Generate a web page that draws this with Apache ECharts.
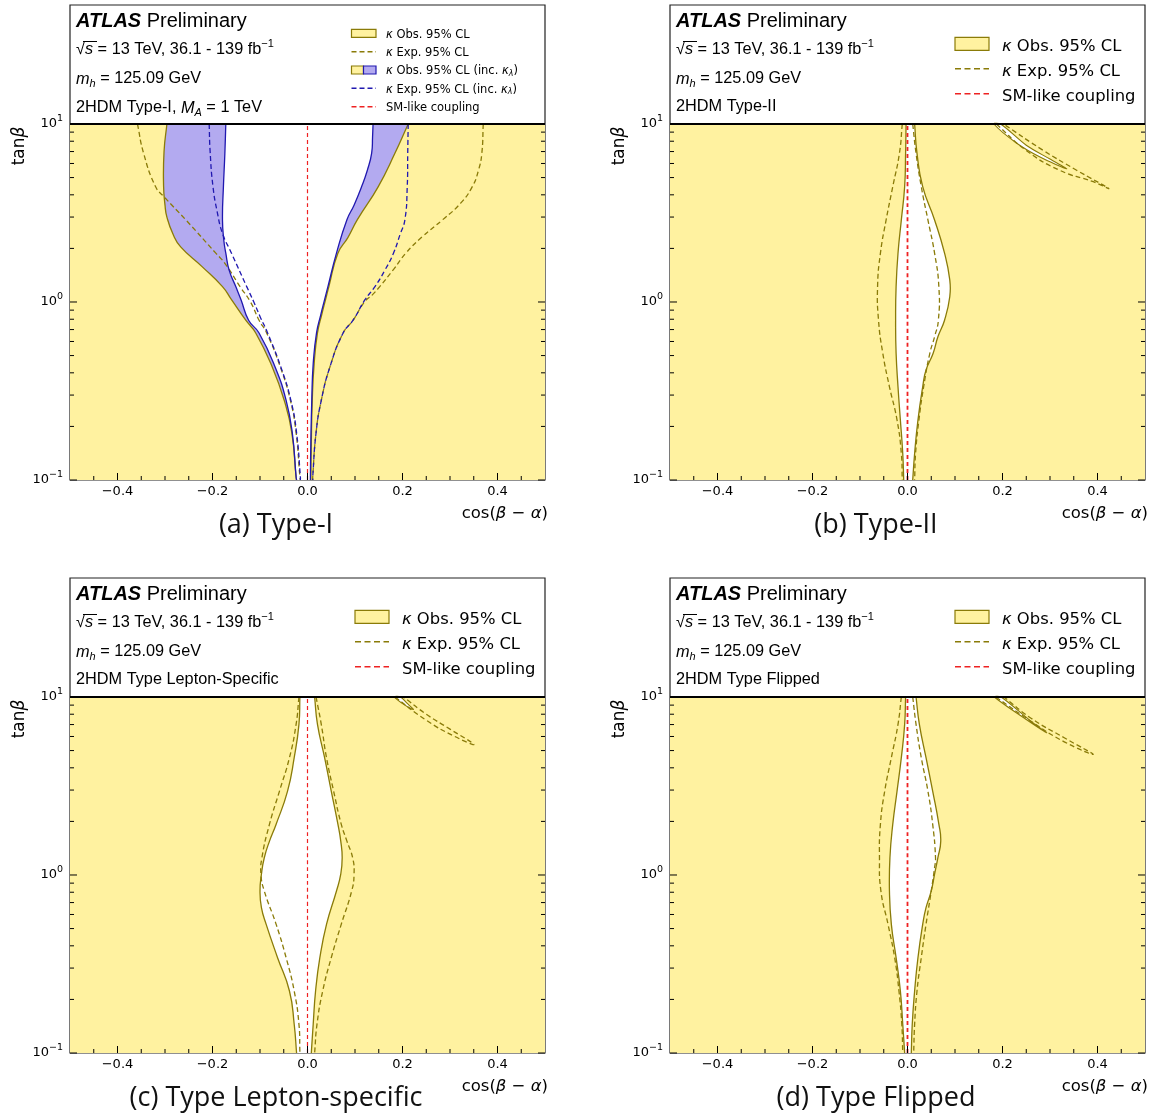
<!DOCTYPE html>
<html>
<head>
<meta charset="utf-8">
<title>2HDM cos(beta-alpha) vs tan(beta)</title>
<script src="https://cdn.jsdelivr.net/npm/echarts@6.0.0/dist/echarts.min.js"></script>
<style>
  html, body { margin: 0; padding: 0; background: #fff; }
  #chart { width: 1160px; height: 1117px; }
</style>
</head>
<body>
<div id="chart"></div>
<script>
// scan ranges
var cosRange = [-0.5, 0.5];
var tanbRange = [0.1, 10];

// tick values
var xMajorTicks = [-0.4, -0.2, 0, 0.2, 0.4];
var xMinorTicks = [-0.45, -0.35, -0.3, -0.25, -0.15, -0.1, -0.05, 0.05, 0.1, 0.15, 0.25, 0.3, 0.35, 0.45];
var yMajorTicks = [0.1, 1, 10];
var yMinorTicks = [0.2, 0.3, 0.4, 0.5, 0.6, 0.7, 0.8, 0.9, 2, 3, 4, 5, 6, 7, 8, 9];

// SM-like coupling
var smLine = [[0, 0.1], [0, 10]];

// points are [cos(beta-alpha), tan(beta)], read top to bottom
// (a) Type-I
var aObsLeft = [[-0.296,10],[-0.302,7],[-0.303,4.5],[-0.3,3.5],[-0.296,3.0],[-0.283,2.4],[-0.267,2.04],[-0.222,1.58],[-0.179,1.22],[-0.16,1.03],[-0.13,0.79],[-0.109,0.67],[-0.074,0.43],[-0.049,0.28],[-0.033,0.184],[-0.024,0.104],[-0.023,0.1]];
var aObsRight = [[0.212,10],[0.184,6.84],[0.149,4.45],[0.105,2.9],[0.085,2.3],[0.064,1.88],[0.045,1.22],[0.038,1.03],[0.03,0.85],[0.021,0.67],[0.014,0.45],[0.01,0.28],[0.008,0.16],[0.007,0.1]];
var aKlObsLeft = [[-0.172,10],[-0.174,6.8],[-0.177,4.45],[-0.179,2.9],[-0.176,2.2],[-0.172,1.88],[-0.165,1.51],[-0.151,1.22],[-0.14,1.03],[-0.124,0.79],[-0.102,0.67],[-0.068,0.43],[-0.045,0.28],[-0.032,0.184],[-0.024,0.104],[-0.023,0.1]];
var aKlObsRight = [[0.138,10],[0.137,8.5],[0.135,6.84],[0.126,5.5],[0.114,4.45],[0.098,3.5],[0.083,2.9],[0.061,1.88],[0.043,1.22],[0.036,1.03],[0.028,0.85],[0.019,0.67],[0.012,0.45],[0.009,0.28],[0.007,0.16],[0.006,0.1]];
var aExpLeft = [[-0.358,10],[-0.345,6.84],[-0.32,4.45],[-0.302,3.9],[-0.256,2.89],[-0.193,1.88],[-0.174,1.65],[-0.142,1.22],[-0.12,1.0],[-0.102,0.79],[-0.086,0.67],[-0.057,0.43],[-0.036,0.28],[-0.024,0.184],[-0.016,0.104],[-0.015,0.1]];
var aExpRight = [[0.37,10],[0.367,6.84],[0.36,5.5],[0.347,4.45],[0.322,3.58],[0.284,2.89],[0.242,2.33],[0.207,1.88],[0.18,1.51],[0.152,1.22],[0.137,1.1],[0.12,1.0],[0.096,0.79],[0.075,0.67],[0.047,0.43],[0.029,0.28],[0.018,0.184],[0.011,0.104],[0.011,0.1]];
var aKlExpLeft = [[-0.207,10],[-0.205,7],[-0.199,4.45],[-0.19,3.2],[-0.179,2.43],[-0.16,1.88],[-0.128,1.22],[-0.113,1.0],[-0.1,0.83],[-0.084,0.67],[-0.056,0.43],[-0.035,0.28],[-0.023,0.184],[-0.015,0.104],[-0.015,0.1]];
var aKlExpRight = [[0.212,10],[0.211,6.84],[0.21,4.45],[0.205,2.89],[0.195,2.4],[0.181,1.88],[0.163,1.51],[0.142,1.22],[0.121,1.03],[0.096,0.79],[0.075,0.67],[0.047,0.43],[0.029,0.28],[0.018,0.184],[0.011,0.104],[0.011,0.1]];

// (b) Type-II
var bObsLeft = [[-0.003,10],[-0.004,6.84],[-0.006,4.45],[-0.013,2.89],[-0.02,1.88],[-0.024,1.22],[-0.025,0.79],[-0.024,0.515],[-0.02,0.334],[-0.015,0.217],[-0.01,0.141],[-0.008,0.1]];
var bObsRight = [[0.015,10],[0.02,6.84],[0.032,4.45],[0.057,2.89],[0.078,1.88],[0.089,1.33],[0.089,1.07],[0.078,0.79],[0.064,0.638],[0.054,0.515],[0.039,0.415],[0.032,0.334],[0.022,0.217],[0.015,0.141],[0.011,0.1]];
var bExpLeft = [[-0.011,10],[-0.017,6.84],[-0.031,4.45],[-0.045,2.89],[-0.057,1.88],[-0.063,1.22],[-0.061,0.79],[-0.052,0.515],[-0.038,0.334],[-0.022,0.217],[-0.013,0.141],[-0.011,0.1]];
var bExpRight = [[0.011,10],[0.018,6.84],[0.029,4.45],[0.043,2.89],[0.057,1.88],[0.066,1.22],[0.065,0.79],[0.057,0.638],[0.047,0.515],[0.034,0.334],[0.024,0.217],[0.017,0.141],[0.015,0.1]];
var bObsArm = [[0.182,10],[0.23,7.8],[0.28,6.5],[0.335,5.6],[0.3,6.35],[0.25,7.6],[0.196,10]];
var bExpArm = [[0.187,10],[0.25,7.1],[0.32,5.5],[0.391,4.74],[0.423,4.35],[0.356,5.5],[0.286,7.1],[0.202,10]];

// (c) Type Lepton-specific
var cObsLeft = [[-0.016,10],[-0.018,7.02],[-0.028,4.56],[-0.042,2.96],[-0.066,1.93],[-0.08,1.55],[-0.091,1.25],[-0.097,1.01],[-0.1,0.813],[-0.097,0.655],[-0.087,0.528],[-0.063,0.343],[-0.038,0.223],[-0.028,0.145],[-0.023,0.1]];
var cObsRight = [[0.015,10],[0.021,7.02],[0.036,4.56],[0.05,2.96],[0.064,1.93],[0.07,1.55],[0.073,1.25],[0.07,1.01],[0.061,0.813],[0.04,0.528],[0.026,0.343],[0.017,0.223],[0.012,0.145],[0.008,0.1]];
var cExpLeft = [[-0.018,10],[-0.024,7.02],[-0.038,4.56],[-0.059,2.96],[-0.08,1.93],[-0.096,1.25],[-0.098,1.01],[-0.091,0.813],[-0.066,0.528],[-0.045,0.343],[-0.028,0.223],[-0.018,0.145],[-0.016,0.1]];
var cExpRight = [[0.018,10],[0.029,7.02],[0.04,4.56],[0.055,2.96],[0.071,1.93],[0.083,1.55],[0.095,1.25],[0.098,1.01],[0.093,0.813],[0.071,0.528],[0.05,0.343],[0.032,0.223],[0.02,0.145],[0.015,0.1]];
var cObsArm = [[0.183,10],[0.205,9.0],[0.223,8.5],[0.21,9.2],[0.196,10]];
var cExpArm = [[0.184,10],[0.25,7.4],[0.31,6.0],[0.35,5.42],[0.3,6.6],[0.25,8.0],[0.202,10]];

// (d) Type Flipped
var dObsLeft = [[-0.004,10],[-0.006,7.02],[-0.013,4.56],[-0.022,2.96],[-0.031,1.93],[-0.037,1.25],[-0.038,0.813],[-0.034,0.528],[-0.024,0.343],[-0.015,0.223],[-0.01,0.145],[-0.006,0.1]];
var dObsRight = [[0.018,10],[0.025,7.02],[0.039,4.56],[0.053,2.96],[0.066,1.93],[0.07,1.55],[0.064,1.25],[0.057,1.01],[0.05,0.813],[0.039,0.655],[0.032,0.528],[0.022,0.343],[0.015,0.223],[0.01,0.145],[0.008,0.1]];
var dExpLeft = [[-0.013,10],[-0.02,7.02],[-0.034,4.56],[-0.048,2.96],[-0.057,1.93],[-0.059,1.25],[-0.056,0.813],[-0.041,0.528],[-0.027,0.343],[-0.018,0.223],[-0.012,0.145],[-0.01,0.1]];
var dExpRight = [[0.011,10],[0.018,7.02],[0.029,4.56],[0.043,2.96],[0.053,1.93],[0.059,1.25],[0.057,1.1],[0.05,0.813],[0.039,0.528],[0.029,0.343],[0.02,0.223],[0.015,0.145],[0.013,0.1]];
var dObsArm = [[0.183,10],[0.24,7.8],[0.293,6.3],[0.26,7.3],[0.197,10]];
var dExpArm = [[0.186,10],[0.26,7.3],[0.33,5.6],[0.391,4.76],[0.33,5.9],[0.26,7.6],[0.203,10]];

var captions = ['(a) Type-I', '(b) Type-II', '(c) Type Lepton-specific', '(d) Type Flipped'];

var YEL = '#fff2a0', PUR = '#b3aaf0', OLV = '#8a7b08', BLU = '#2018b0', RED = '#ee2222';
var SANS = '"Liberation Sans", Arial, sans-serif';
var DJV = '"DejaVu Sans", sans-serif';
var GL = [70, 670, 70, 670], GT = [5, 5, 578, 578], GW = 475, GH = 475;
var TAN_TOP = 46.6;   // top of the frame (legend box)
var SMOOTH = 0.5;

var chart = echarts.init(document.getElementById('chart'));

function dupEnds(p) { return [p[0]].concat(p, [p[p.length - 1]]); }

// open curve, smoothed by the library
function curve(gi, pts, style, z) {
  return {
    type: 'custom', xAxisIndex: gi, yAxisIndex: gi, z: z, silent: true, clip: true,
    data: pts,
    renderItem: function (params, api) {
      if (params.dataIndex !== 0) return null;
      var p = pts.map(function (d) { return api.coord(d); });
      return { type: 'polyline', shape: { points: dupEnds(p), smooth: SMOOTH },
        style: echarts.util.extend({ fill: 'none' }, style) };
    }
  };
}

// area between a left and a right boundary
function region(gi, left, right, fill, z) {
  var all = left.concat(right);
  return {
    type: 'custom', xAxisIndex: gi, yAxisIndex: gi, z: z, silent: true, clip: true,
    data: all,
    renderItem: function (params, api) {
      if (params.dataIndex !== 0) return null;
      var l = left.map(function (d) { return api.coord(d); });
      var r = right.map(function (d) { return api.coord(d); }).reverse();
      return { type: 'polygon', shape: { points: dupEnds(l).concat(dupEnds(r)), smooth: SMOOTH },
        style: { fill: fill } };
    }
  };
}

// closed narrow island
function island(gi, pts, fill, stroke, z) {
  return {
    type: 'custom', xAxisIndex: gi, yAxisIndex: gi, z: z, silent: true, clip: true,
    data: pts,
    renderItem: function (params, api) {
      if (params.dataIndex !== 0) return null;
      var p = pts.map(function (d) { return api.coord(d); });
      return { type: 'polygon', shape: { points: p, smooth: 0.3 },
        style: { fill: fill, stroke: stroke, lineWidth: 1.1 } };
    }
  };
}

// excluded band: the whole scanned range
function band(gi) {
  return {
    type: 'custom', xAxisIndex: gi, yAxisIndex: gi, z: 1, silent: true, clip: true,
    data: [[cosRange[0], tanbRange[0]], [cosRange[1], tanbRange[1]]],
    renderItem: function (params, api) {
      if (params.dataIndex !== 0) return null;
      var a = api.coord([cosRange[0], tanbRange[0]]), b = api.coord([cosRange[1], tanbRange[1]]);
      return { type: 'rect', shape: { x: a[0], y: b[1], width: b[0] - a[0], height: a[1] - b[1] },
        style: { fill: YEL } };
    }
  };
}

// inward ticks on three sides and the line closing the scanned range
function ticks(gi) {
  return {
    type: 'custom', xAxisIndex: gi, yAxisIndex: gi, z: 20, silent: true,
    data: [[0, 1]],
    renderItem: function (params, api) {
      var kids = [];
      function seg(x1, y1, x2, y2, w) {
        kids.push({ type: 'line', shape: { x1: x1, y1: y1, x2: x2, y2: y2 },
          style: { stroke: '#000', lineWidth: w || 1 } });
      }
      yMajorTicks.forEach(function (v) {
        var l = api.coord([cosRange[0], v]), r = api.coord([cosRange[1], v]);
        seg(l[0], l[1], l[0] + 7, l[1]); seg(r[0], r[1], r[0] - 7, r[1]);
      });
      yMinorTicks.forEach(function (v) {
        var l = api.coord([cosRange[0], v]), r = api.coord([cosRange[1], v]);
        seg(l[0], l[1], l[0] + 4, l[1]); seg(r[0], r[1], r[0] - 4, r[1]);
      });
      xMajorTicks.forEach(function (v) {
        var b = api.coord([v, tanbRange[0]]);
        seg(b[0], b[1], b[0], b[1] - 7);
      });
      xMinorTicks.forEach(function (v) {
        var b = api.coord([v, tanbRange[0]]);
        seg(b[0], b[1], b[0], b[1] - 4);
      });
      var s0 = api.coord([cosRange[0], tanbRange[1]]), s1 = api.coord([cosRange[1], tanbRange[1]]);
      seg(s0[0], s0[1], s1[0], s1[1], 2);
      return { type: 'group', children: kids };
    }
  };
}

var solid = function (c) { return { stroke: c, lineWidth: 1.3 }; };
var dashed = function (c) { return { stroke: c, lineWidth: 1.3, lineDash: [5, 3] }; };

var series = [];
// (a)
series.push(band(0));
series.push(region(0, aObsLeft, aObsRight, PUR, 2));
series.push(region(0, aKlObsLeft, aKlObsRight, '#fff', 3));
series.push(curve(0, aExpLeft, dashed(OLV), 4));
series.push(curve(0, aExpRight, dashed(OLV), 4));
series.push(curve(0, aObsLeft, solid(OLV), 5));
series.push(curve(0, aObsRight, solid(OLV), 5));
series.push(curve(0, aKlObsLeft, solid(BLU), 6));
series.push(curve(0, aKlObsRight, solid(BLU), 6));
series.push(curve(0, aKlExpLeft, dashed(BLU), 7));
series.push(curve(0, aKlExpRight, dashed(BLU), 7));
series.push(curve(0, smLine, { stroke: RED, lineWidth: 1.2, lineDash: [4, 3] }, 8));
series.push(ticks(0));

// (b), (c), (d)
[
  [bObsLeft, bObsRight, bExpLeft, bExpRight, bObsArm, bExpArm, 1.8],
  [cObsLeft, cObsRight, cExpLeft, cExpRight, cObsArm, cExpArm, 1.2],
  [dObsLeft, dObsRight, dExpLeft, dExpRight, dObsArm, dExpArm, 1.8]
].forEach(function (s, k) {
  var gi = k + 1;
  series.push(band(gi));
  series.push(region(gi, s[0], s[1], '#fff', 3));
  series.push(island(gi, s[4], '#fff', OLV, 4));
  series.push(curve(gi, s[0], solid(OLV), 5));
  series.push(curve(gi, s[1], solid(OLV), 5));
  series.push(curve(gi, s[2], dashed(OLV), 6));
  series.push(curve(gi, s[3], dashed(OLV), 6));
  series.push(curve(gi, s[5], dashed(OLV), 6));
  series.push(curve(gi, smLine, { stroke: RED, lineWidth: s[6], lineDash: [4, 3] }, 8));
  series.push(ticks(gi));
});

var grids = [], xAxes = [], yAxes = [];
for (var i = 0; i < 4; i++) {
  grids.push({ left: GL[i], top: GT[i], width: GW, height: GH, show: true,
    borderColor: '#222', borderWidth: 1.2, backgroundColor: '#fff' });
  xAxes.push({
    type: 'value', gridIndex: i, min: cosRange[0], max: cosRange[1], interval: 0.05,
    axisLine: { show: false }, axisTick: { show: false }, splitLine: { show: false },
    axisLabel: {
      margin: 5, color: '#000', fontSize: 13, fontFamily: DJV,
      formatter: function (v) {
        var hit = xMajorTicks.some(function (t) { return Math.abs(t - v) < 1e-6; });
        if (!hit) return '';
        return (v < -1e-9 ? '\u2212' : '') + Math.abs(v).toFixed(1);
      }
    }
  });
  yAxes.push({
    type: 'log', logBase: 10, gridIndex: i, min: tanbRange[0], max: TAN_TOP,
    axisLine: { show: false }, axisTick: { show: false }, splitLine: { show: false },
    minorTick: { show: false },
    axisLabel: {
      margin: 7, color: '#000',
      formatter: function (v) {
        var e = Math.log10(v), r = Math.round(e);
        if (Math.abs(e - r) > 1e-6 || r > 1) return '';
        return '{b|10}{s|' + (r < 0 ? '\u2212' + (-r) : r) + '}';
      },
      rich: {
        b: { fontSize: 13, fontFamily: DJV, color: '#000', lineHeight: 20 },
        s: { fontSize: 9.5, fontFamily: DJV, color: '#000', lineHeight: 10, verticalAlign: 'top' }
      }
    }
  });
}

// text block, legend and captions
var graphic = [];
function txt(x, y, text, rich, font, extra) {
  var st = { text: text, font: font, fill: '#000', align: 'left', verticalAlign: 'middle' };
  if (rich) st.rich = rich;
  if (extra) echarts.util.extend(st, extra);
  graphic.push({ type: 'text', x: x, y: y, z: 100, silent: true, style: st });
}
function rectG(x, y, w, h, fill, stroke) {
  graphic.push({ type: 'rect', z: 100, silent: true, shape: { x: x, y: y, width: w, height: h },
    style: { fill: fill, stroke: stroke, lineWidth: 1.2 } });
}
function lineG(x1, y1, x2, y2, stroke, w, dash) {
  graphic.push({ type: 'line', z: 100, silent: true, shape: { x1: x1, y1: y1, x2: x2, y2: y2 },
    style: { stroke: stroke, lineWidth: w, lineDash: dash || null } });
}

var boxTitles = ['2HDM Type-I, ', '2HDM Type-II', '2HDM Type Lepton-Specific', '2HDM Type Flipped'];

for (var j = 0; j < 4; j++) {
  var gx = GL[j], gt = GT[j];
  var f16 = '16.3px ' + SANS, fi16 = 'italic 16.3px ' + SANS, f11 = '11px ' + SANS, fi11 = 'italic 11px ' + SANS;
  txt(gx + 6, gt + 16, '{a|ATLAS} {p|Preliminary}', {
    a: { font: 'italic bold 20px ' + SANS, fill: '#000' },
    p: { font: '20px ' + SANS, fill: '#000' }
  }, '20px ' + SANS);
  txt(gx + 6, gt + 44.5, '{r|\u221A}{s|s}{t| = 13 TeV, 36.1 - 139 fb}{u|\u22121}', {
    r: { font: f16, lineHeight: 22, fill: '#000' },
    s: { font: fi16, lineHeight: 22, fill: '#000' },
    t: { font: f16, lineHeight: 22, fill: '#000' },
    u: { font: f11, lineHeight: 11, verticalAlign: 'top', fill: '#000' }
  }, f16);
  lineG(gx + 13, gt + 36.5, gx + 27, gt + 36.5, '#000', 1);
  txt(gx + 6, gt + 74, '{m|m}{h|h}{t| = 125.09 GeV}', {
    m: { font: fi16, lineHeight: 20, fill: '#000' },
    h: { font: fi11, lineHeight: 11, verticalAlign: 'bottom', fill: '#000' },
    t: { font: f16, lineHeight: 20, fill: '#000' }
  }, f16);
  if (j === 0) {
    txt(gx + 6, gt + 103, '{t|' + boxTitles[0] + '}{m|M}{h|A}{t| = 1 TeV}', {
      m: { font: fi16, lineHeight: 20, fill: '#000' },
      h: { font: fi11, lineHeight: 11, verticalAlign: 'bottom', fill: '#000' },
      t: { font: f16, lineHeight: 20, fill: '#000' }
    }, f16);
  } else {
    txt(gx + 6, gt + 102, boxTitles[j], null, f16);
  }

  if (j === 0) {
    // small legend with five entries
    var rows = [28.3, 46.7, 65, 83.3, 101.7], sx = gx + 281.5, sw = 24.5, tx = gx + 316;
    var lf = '11.5px ' + DJV, lfi = 'oblique 11.5px ' + DJV;
    var kr = { k: { font: lfi, fill: '#000' }, t: { font: lf, fill: '#000' },
      l: { font: 'oblique 8px ' + DJV, fill: '#000', verticalAlign: 'bottom', lineHeight: 8 } };
    var dy = 1.5;
    rectG(sx, gt + rows[0] - 4, sw, 8, YEL, OLV);
    txt(tx, gt + rows[0] + dy, '{k|\u03BA}{t| Obs. 95% CL}', kr, lf);
    lineG(sx, gt + rows[1], sx + sw, gt + rows[1], OLV, 1.4, [5, 3]);
    txt(tx, gt + rows[1] + dy, '{k|\u03BA}{t| Exp. 95% CL}', kr, lf);
    rectG(sx, gt + rows[2] - 4, 12, 8, YEL, OLV);
    rectG(sx + 12, gt + rows[2] - 4, sw - 12, 8, PUR, BLU);
    txt(tx, gt + rows[2] + dy, '{k|\u03BA}{t| Obs. 95% CL (inc. }{k|\u03BA}{l|\u03BB}{t|)}', kr, lf);
    lineG(sx, gt + rows[3], sx + sw, gt + rows[3], BLU, 1.4, [5, 3]);
    txt(tx, gt + rows[3] + dy, '{k|\u03BA}{t| Exp. 95% CL (inc. }{k|\u03BA}{l|\u03BB}{t|)}', kr, lf);
    lineG(sx, gt + rows[4], sx + sw, gt + rows[4], RED, 1.4, [5, 3]);
    txt(tx, gt + rows[4] + dy, 'SM-like coupling', null, lf);
  } else {
    var rows2 = [38.8, 63.8, 88.8], sx2 = gx + 285, sw2 = 34, tx2 = gx + 332;
    var lf2 = '16.4px ' + DJV, lfi2 = 'oblique 16.4px ' + DJV;
    var kr2 = { k: { font: lfi2, fill: '#000' }, t: { font: lf2, fill: '#000' } };
    var dy2 = 2.5;
    rectG(sx2, gt + rows2[0] - 6.5, sw2, 13, YEL, OLV);
    txt(tx2, gt + rows2[0] + dy2, '{k|\u03BA}{t| Obs. 95% CL}', kr2, lf2);
    lineG(sx2, gt + rows2[1], sx2 + sw2, gt + rows2[1], OLV, 1.6, [6, 3.5]);
    txt(tx2, gt + rows2[1] + dy2, '{k|\u03BA}{t| Exp. 95% CL}', kr2, lf2);
    lineG(sx2, gt + rows2[2], sx2 + sw2, gt + rows2[2], RED, 1.6, [6, 3.5]);
    txt(tx2, gt + rows2[2] + dy2, 'SM-like coupling', null, lf2);
  }

  // axis titles
  txt(gx + 478, gt + 509, '{t|cos(}{g|\u03B2}{t| \u2212 }{g|\u03B1}{t|)}', {
    t: { font: '16.5px ' + DJV, fill: '#000' },
    g: { font: 'oblique 16.5px ' + DJV, fill: '#000' }
  }, '16.5px ' + DJV, { align: 'right' });
  graphic.push({ type: 'text', x: gx - 50, y: gt + 141, rotation: Math.PI / 2, z: 100, silent: true,
    style: { text: '{t|tan}{g|\u03B2}', font: '17px ' + DJV, fill: '#000', align: 'center', verticalAlign: 'middle',
      rich: { t: { font: '17px ' + DJV, fill: '#000' }, g: { font: 'oblique 17px ' + DJV, fill: '#000' } } } });

  // caption
  txt(gx + 206, gt + 520, captions[j], null, '27px "Open Sans", "Noto Sans", sans-serif',
    { align: 'center', fill: '#111' });
}

chart.setOption({
  animation: false,
  backgroundColor: '#fff',
  grid: grids,
  xAxis: xAxes,
  yAxis: yAxes,
  series: series,
  graphic: graphic
});
</script>
</body>
</html>
